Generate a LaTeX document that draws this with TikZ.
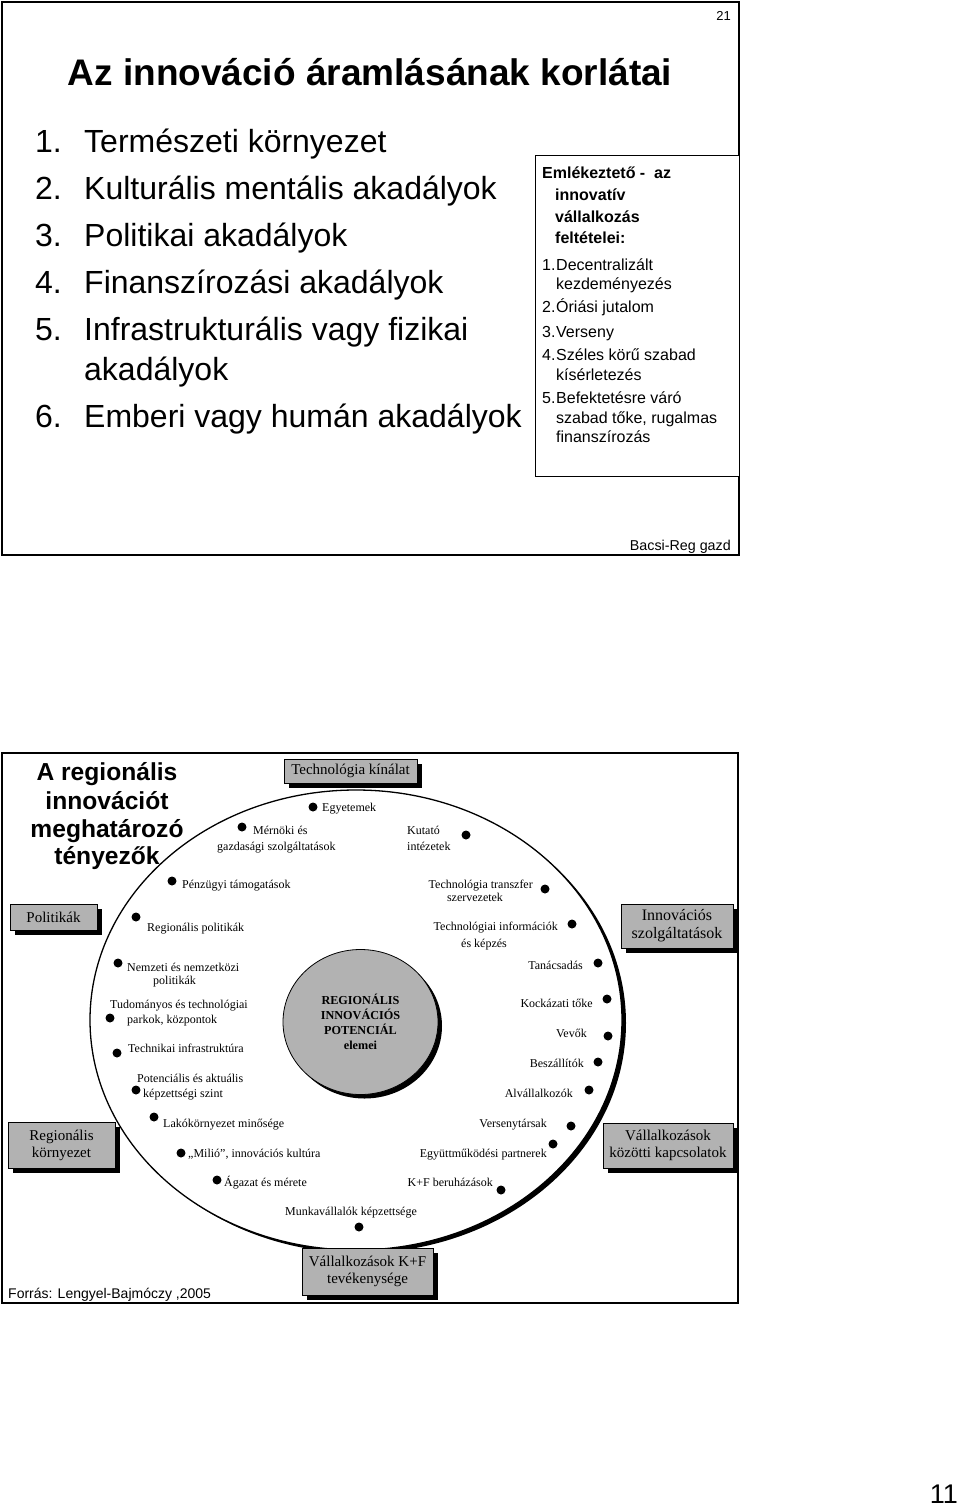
\documentclass[tikz,border=0pt]{standalone}
\usepackage{fontspec}
\setmainfont{Liberation Serif}
\newfontfamily\arial{Liberation Sans}
\usetikzlibrary{shapes.geometric,shadows}
\definecolor{boxgray}{RGB}{178,178,178}
\begin{document}
\begin{tikzpicture}[x=1pt,y=-1pt,
  slide/.style={font=\arial\fontsize{32}{38}\selectfont, anchor=base west, inner sep=0pt},
  memo/.style={font=\arial\fontsize{16}{19}\selectfont, anchor=base west, inner sep=0pt},
  memob/.style={font=\arial\bfseries\fontsize{16}{19}\selectfont, anchor=base west, inner sep=0pt},
  lblw/.style={font=\fontsize{12}{14}\selectfont, anchor=base west, inner sep=0pt},
  lble/.style={font=\fontsize{12}{14}\selectfont, anchor=base east, inner sep=0pt},
  lblc/.style={font=\fontsize{12}{14}\selectfont, anchor=base, inner sep=0pt},
  dot/.style={circle, fill=black, minimum size=9pt, inner sep=0pt},
  gbox/.style={draw=black, line width=0.8pt, fill=boxgray, inner sep=0pt, align=center,
    font=\fontsize{15}{17}\selectfont,
    drop shadow={shadow xshift=5pt, shadow yshift=-5pt, fill=black, opacity=1}},
  head/.style={font=\arial\bfseries\fontsize{24.6}{29}\selectfont, anchor=base, inner sep=0pt},
  frame/.style={draw=black, line width=2pt}
]
\useasboundingbox (0,0) rectangle (960,1507);
\fill[white] (0,0) rectangle (960,1507);

% ---------------- top slide ----------------
\draw[frame] (2,2) rectangle (739,555);
\node[font=\arial\fontsize{13}{15}\selectfont, anchor=base east, inner sep=0pt] (pg) at (731,20) {21};
\node[font=\arial\bfseries\fontsize{37}{44}\selectfont, anchor=base, inner sep=0pt] (title) at (370,85) {Az innováció áramlásának korlátai};

\node[slide] (n1) at (35,152) {1.};
\node[slide] (t1) at (84,152) {Természeti környezet};
\node[slide] (n2) at (35,199) {2.};
\node[slide] (t2) at (84,199) {Kulturális mentális akadályok};
\node[slide] (n3) at (35,246) {3.};
\node[slide] (t3) at (84,246) {Politikai akadályok};
\node[slide] (n4) at (35,293) {4.};
\node[slide] (t4) at (84,293) {Finanszírozási akadályok};
\node[slide] (n5) at (35,340) {5.};
\node[slide] (t5) at (84,340) {Infrastrukturális vagy fizikai};
\node[slide] (t5b) at (84,380) {akadályok};
\node[slide] (n6) at (35,427) {6.};
\node[slide] (t6) at (84,427) {Emberi vagy humán akadályok};

\node[draw=black, line width=1pt, fill=white, minimum width=204pt, minimum height=321pt, inner sep=0pt] (memobox) at (637,315.5) {};
\node[memob] (m1) at (542,178) {Emlékeztető -\ \ az};
\node[memob] (m2) at (555,200) {innovatív};
\node[memob] (m3) at (555,222) {vállalkozás};
\node[memob] (m4) at (555,243) {feltételei:};
\node[memo] (i1) at (542,270) {1.};
\node[memo] (i1a) at (556,270) {Decentralizált};
\node[memo] (i1b) at (556,289) {kezdeményezés};
\node[memo] (i2) at (542,312) {2.};
\node[memo] (i2a) at (556,312) {Óriási jutalom};
\node[memo] (i3) at (542,337) {3.};
\node[memo] (i3a) at (556,337) {Verseny};
\node[memo] (i4) at (542,360) {4.};
\node[memo] (i4a) at (556,360) {Széles körű szabad};
\node[memo] (i4b) at (556,380) {kísérletezés};
\node[memo] (i5) at (542,403) {5.};
\node[memo] (i5a) at (556,403) {Befektetésre váró};
\node[memo] (i5b) at (556,423) {szabad tőke, rugalmas};
\node[memo] (i5c) at (556,442) {finanszírozás};

\node[font=\arial\fontsize{14.3}{17}\selectfont, anchor=base east, inner sep=0pt] (src1) at (731,550) {Bacsi-Reg gazd};

% ---------------- bottom slide ----------------
% outer ellipse with shadow crescent
\fill[black] (360,1023) ellipse [x radius=266, y radius=230];
\fill[white] (356,1020) ellipse [x radius=266, y radius=230];
\draw[line width=1.3pt] (356,1020) ellipse [x radius=266, y radius=230];

% core
\node[ellipse, draw=black, line width=0.8pt, fill=boxgray, minimum width=155pt, minimum height=145pt,
  inner sep=0pt, align=center, font=\bfseries\fontsize{12.2}{15}\selectfont,
  drop shadow={shadow xshift=4pt, shadow yshift=-4pt, fill=black, opacity=1}] (core) at (360.5,1022)
  {REGIONÁLIS\\INNOVÁCIÓS\\POTENCIÁL\\elemei};

% dots
\node[dot] (d1) at (313,807) {};
\node[dot] (d2) at (242,827) {};
\node[dot] (d3) at (466,835) {};
\node[dot] (d4) at (172,881) {};
\node[dot] (d5) at (545,889) {};
\node[dot] (d6) at (136,917) {};
\node[dot] (d7) at (572,924) {};
\node[dot] (d8) at (118,963) {};
\node[dot] (d9) at (598,963) {};
\node[dot] (d10) at (110,1018) {};
\node[dot] (d11) at (607,999) {};
\node[dot] (d12) at (117,1053) {};
\node[dot] (d13) at (608,1036) {};
\node[dot] (d14) at (136,1090) {};
\node[dot] (d15) at (598,1062) {};
\node[dot] (d16) at (589,1090) {};
\node[dot] (d17) at (154,1117) {};
\node[dot] (d18) at (571,1126) {};
\node[dot] (d19) at (181,1153) {};
\node[dot] (d20) at (553,1144) {};
\node[dot] (d21) at (217,1180) {};
\node[dot] (d22) at (501,1190) {};
\node[dot] (d23) at (359,1227) {};

% labels
\node[lblw] (l1) at (322,811) {Egyetemek};
\node[lblw] (l2a) at (253,834) {Mérnöki és};
\node[lblw] (l2b) at (217,850) {gazdasági szolgáltatások};
\node[lblw] (l3a) at (407,834) {Kutató};
\node[lblw] (l3b) at (407,850) {intézetek};
\node[lblw] (l4) at (182,888) {Pénzügyi támogatások};
\node[lble] (l5a) at (533,888) {Technológia transzfer};
\node[lblc] (l5b) at (475,901) {szervezetek};
\node[lblw] (l6) at (147,931) {Regionális politikák};
\node[lble] (l7a) at (558,930) {Technológiai információk};
\node[lblc] (l7b) at (484,947) {és képzés};
\node[lblw] (l8a) at (127,971) {Nemzeti és nemzetközi};
\node[lblw] (l8b) at (153,984) {politikák};
\node[lble] (l9) at (583,969) {Tanácsadás};
\node[lblw] (l10a) at (110,1008) {Tudományos és technológiai};
\node[lblw] (l10b) at (127,1023) {parkok, központok};
\node[lble] (l11) at (593,1007) {Kockázati tőke};
\node[lblw] (l12) at (128,1052) {Technikai infrastruktúra};
\node[lble] (l13) at (587,1037) {Vevők};
\node[lblw] (l14a) at (137,1082) {Potenciális és aktuális};
\node[lblw] (l14b) at (143,1097) {képzettségi szint};
\node[lble] (l15) at (584,1067) {Beszállítók};
\node[lble] (l16) at (573,1097) {Alvállalkozók};
\node[lblw] (l17) at (163,1127) {Lakókörnyezet minősége};
\node[lble] (l18) at (547,1127) {Versenytársak};
\node[lblw] (l19) at (188,1157) {„Milió”, innovációs kultúra};
\node[lble] (l20) at (547,1157) {Együttműködési partnerek};
\node[lblw] (l21) at (224,1186) {Ágazat és mérete};
\node[lble] (l22) at (493,1186) {K+F beruházások};
\node[lblw] (l23) at (285,1215) {Munkavállalók képzettsége};

% grey boxes
\node[gbox, minimum width=133pt, minimum height=24pt] (tech) at (350.5,771) {Technológia kínálat};
\node[gbox, minimum width=87pt, minimum height=26pt] (pol) at (53.5,917) {Politikák};
\node[gbox, minimum width=112pt, minimum height=44pt, font=\fontsize{16}{18}\selectfont] (innov) at (677,926) {Innovációs\\szolgáltatások};
\node[gbox, minimum width=107pt, minimum height=46pt] (regk) at (61.5,1145) {Regionális\\környezet};
\node[gbox, minimum width=130pt, minimum height=45pt] (vkap) at (668,1145.5) {Vállalkozások\\közötti kapcsolatok};
\node[gbox, minimum width=131pt, minimum height=47pt] (kf) at (367.5,1271.5) {Vállalkozások K+F\\tevékenysége};

% heading
\node[head] (h1) at (107,780) {A regionális};
\node[head] (h2) at (107,809) {innovációt};
\node[head] (h3) at (107,837) {meghatározó};
\node[head] (h4) at (107,864) {tényezők};

\node[font=\arial\fontsize{14}{16}\selectfont, anchor=base west, inner sep=0pt] (forras) at (8,1298) {Forrás: Lengyel-Bajmóczy ,2005};

\draw[frame] (2,753) rectangle (738,1303);

\node[font=\arial\fontsize{27}{30}\selectfont, anchor=base east, inner sep=0pt] (pn) at (958,1503) {11};
\end{tikzpicture}
\end{document}
